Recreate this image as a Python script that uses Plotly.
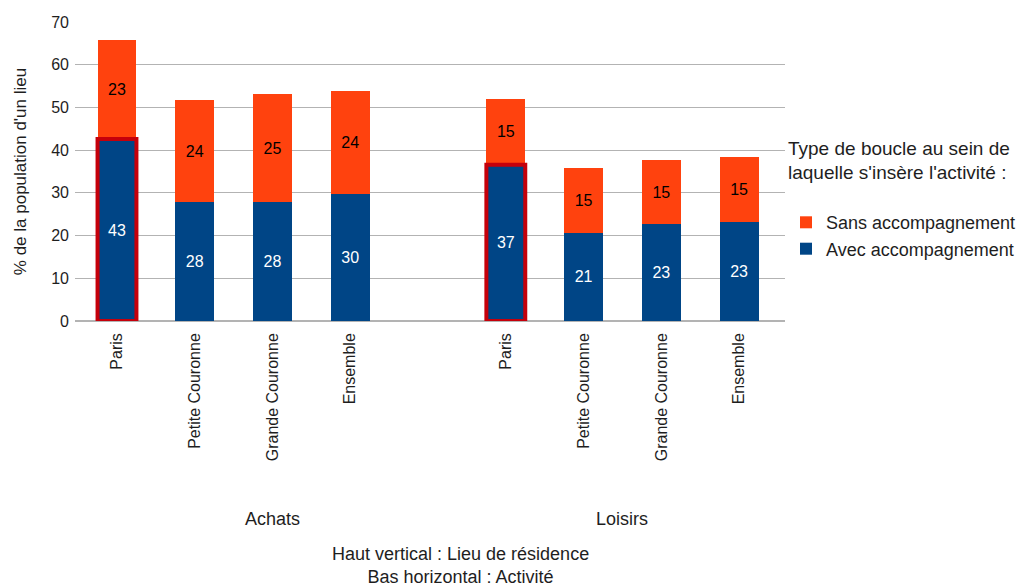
import plotly.graph_objects as go

groups = ["Achats", "Loisirs"]
lieux = ["Paris", "Petite Couronne", "Grande Couronne", "Ensemble"]
avec = [42.6, 27.8, 27.8, 29.7, 36.6, 20.7, 22.6, 23.2]
sans = [23.2, 23.9, 25.3, 24.1, 15.3, 15.2, 15.1, 15.3]
series_names = ["Avec accompagnement", "Sans accompagnement"]
y_ticks = [0, 10, 20, 30, 40, 50, 60, 70]

BLUE = "#004586"
ORANGE = "#ff420e"
RED = "#c5000b"
TXT = "#1e1e1e"
FONT = "Liberation Sans, Arial, sans-serif"
BAR_W = 0.5

# positions: 4 bars per group, one empty slot after the first group
x, cats, grp_of = [], [], []
for g, grp in enumerate(groups):
    for i, l in enumerate(lieux):
        x.append(g * 5 + i)
        cats.append(l)
        grp_of.append(g)

fig = go.Figure()
fig.add_trace(go.Bar(
    x=x, y=avec, name=series_names[0],
    marker=dict(color=BLUE, line=dict(width=0)),
    texttemplate="%{y:.0f}", textposition="inside", insidetextanchor="middle",
    textangle=0, textfont=dict(color="white", size=16, family=FONT),
    width=BAR_W,
))
fig.add_trace(go.Bar(
    x=x, y=sans, name=series_names[1],
    marker=dict(color=ORANGE, line=dict(width=0)),
    texttemplate="%{y:.0f}", textposition="inside", insidetextanchor="middle",
    textangle=0, textfont=dict(color="black", size=16, family=FONT),
    width=BAR_W,
))

# red outline around the "Paris" lower segments (data coordinates)
shapes = []
for xi, c, v in zip(x, cats, avec):
    if c == "Paris":
        shapes.append(dict(type="rect", xref="x", yref="y",
                           x0=xi - BAR_W / 2, x1=xi + BAR_W / 2, y0=0, y1=v,
                           line=dict(color=RED, width=4), layer="above"))

# page geometry (the page body adds an 8px offset)
OFF = 8
W, H = 1033, 586
pl, pr, pt, pb = 75, 248, 22, 265
pw = W - pl - pr

# group labels: first group spans its gap slot too
grp_centers = []
for g in range(len(groups)):
    xs = [xi for xi, gg in zip(x, grp_of) if gg == g]
    hi = max(xs) + (1 if g < len(groups) - 1 else 0)
    grp_centers.append((min(xs) + hi) / 2)

annotations = []
for g, name in enumerate(groups):
    annotations.append(dict(x=grp_centers[g], y=0, xref="x", yref="paper",
                            yanchor="middle", yshift=-(519 - (H - pb)),
                            text=name, showarrow=False,
                            font=dict(size=18, color=TXT, family=FONT)))
annotations.append(dict(x=(460 - pl) / pw, y=0, xref="paper", yref="paper",
                        yanchor="middle", yshift=-(565 - (H - pb)),
                        text="Haut vertical : Lieu de résidence<br>Bas horizontal : Activité",
                        showarrow=False, font=dict(size=18, color=TXT, family=FONT)))

fig.update_layout(
    width=W - OFF, height=H - OFF,
    margin=dict(l=pl - OFF, r=pr, t=pt - OFF, b=pb, autoexpand=False),
    barmode="stack",
    plot_bgcolor="white", paper_bgcolor="white",
    font=dict(family=FONT, size=16, color=TXT),
    showlegend=True,
    legend=dict(
        title=dict(text="Type de boucle au sein de<br>laquelle s'insère l'activité :<br> ",
                   font=dict(size=19, color=TXT, family=FONT), side="top"),
        traceorder="reversed",
        x=(786 - pl) / pw, xanchor="left", y=(H - pb - 130) / (H - pt - pb), yanchor="top",
        font=dict(size=18, color=TXT, family=FONT),
        itemsizing="constant",
        tracegroupgap=0,
    ),
    xaxis=dict(
        range=[-0.54, 8.59],
        tickvals=x, ticktext=cats, tickangle=-90,
        showgrid=False, zeroline=False, showline=False, ticks="",
        tickfont=dict(size=16, color=TXT), ticklabelstandoff=8,
    ),
    yaxis=dict(
        range=[0, 70], tickvals=y_ticks,
        showgrid=True, gridcolor="#b3b3b3", gridwidth=1,
        zeroline=True, zerolinecolor="#b3b3b3",
        ticks="", tickfont=dict(size=16, color=TXT), ticklabelstandoff=5,
        title=dict(text="% de la population d'un lieu",
                   font=dict(size=17, color=TXT), standoff=20),
    ),
    annotations=annotations,
    shapes=shapes,
)

fig.write_html("out.html")
